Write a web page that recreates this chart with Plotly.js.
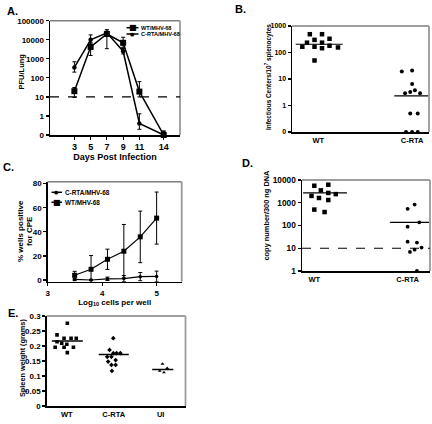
<!DOCTYPE html>
<html><head><meta charset="utf-8">
<script src="https://cdn.plot.ly/plotly-3.0.1.min.js"></script>
<style>html,body{margin:0;padding:0;background:#fff}#chart{width:432px;height:424px}</style>
</head><body><div id="chart"></div>
<script>
// ---------- DATA ----------
// Panel A: lung titers (PFU/Lung); 0 is drawn on the "0" tick below 1
const daysA = [3, 5, 7, 9, 11, 14];
const wtPfu = [20, 4200, 20000, 6900, 19, 0];
const wtPfuHigh = [31, 7000, 34000, 13500, 63, 0.16];
const wtPfuLow = [9.3, 1500, 3400, 4000, 10, 0];
const rtaPfu = [350, 10000, 23000, 2500, 0.4, 0];
const rtaPfuHigh = [700, 18000, 28000, 3500, 1.3, 0.16];
const rtaPfuLow = [200, 6000, 18000, 1800, 0.2, 0];
const limitA = 10;
const tickValsA = [0, 1, 10, 100, 1000, 10000, 100000];
const tickTextA = ['0', '1', '10', '100', '1000', '10000', '100000'];

// Panel B: infectious centers / 10^7 splenocytes
const groupsB = ['WT', 'C-RTA'];
const wtIC = [165, 235, 490, 300, 165, 490, 235, 145, 330, 180, 155, 50];
const wtICJitter = [-0.17, -0.12, -0.09, -0.04, -0.04, 0.04, 0.04, 0.04, 0.12, 0.12, 0.21, -0.04];
const rtaIC = [19, 21, 6.5, 3.8, 2.9, 3.2, 2.9, 0.5, 0.5, 0, 0, 0];
const rtaICJitter = [-0.11, 0, 0, 0.03, -0.075, -0.02, 0.085, -0.02, 0.06, -0.065, 0, 0.06];
const medianB = [205, 2.3];
const tickValsB = [0, 1, 10, 100, 1000];
const tickTextB = ['0', '1', '10', '100', '1000'];

// Panel C: % wells positive for CPE
const cellsC = [3125, 6250, 12500, 25000, 50000, 100000];
const rtaCPE = [0.5, 0, 1, 1.2, 2.8, 3];
const rtaCPEErr = [1, 0.5, 1.4, 2.5, 3.4, 4.4];
const wtCPE = [3.9, 8.9, 17.2, 23.9, 35.8, 51.4];
const wtCPEErr = [3.3, 11.4, 8.4, 22.2, 21.4, 21.6];

// Panel D: copy number / 300 ng DNA
const groupsD = ['WT', 'C-RTA'];
const wtCopy = [5600, 6200, 3500, 2000, 2700, 2400, 1620, 1320, 500, 390];
const wtCopyJitter = [0, 0.15, 0.07, -0.03, 0.15, 0.23, 0.05, 0.15, 0, 0.11];
const rtaCopy = [540, 830, 138, 89, 19.5, 17.8, 8.7, 6.9, 10.7, 1];
const rtaCopyJitter = [0, 0.075, 0.125, 0, 0, 0.10, 0.075, 0.025, 0.15, 0.10];
const medianD = [2700, 138];
const limitD = 10;

// Panel E: spleen weight (grams)
const groupsE = ['WT', 'C-RTA', 'UI'];
const wtSpleen = [0.276, 0.237, 0.214, 0.226, 0.226, 0.226, 0.209, 0.206, 0.196, 0.196, 0.196, 0.178];
const wtSpleenJitter = [0.01, -0.21, -0.21, -0.06, 0.09, 0.2, -0.11, 0, -0.25, -0.06, 0.14, 0.01];
const rtaSpleen = [0.226, 0.187, 0.176, 0.176, 0.176, 0.164, 0.164, 0.148, 0.153, 0.137, 0.137, 0.117];
const rtaSpleenJitter = [-0.01, -0.09, 0.06, 0.14, -0.01, -0.14, -0.05, -0.12, 0.04, -0.05, 0.04, -0.04];
const uiSpleen = [0.14, 0.117, 0.112, 0.126];
const uiSpleenJitter = [0.04, -0.02, 0.07, 0.14];
const medianE = [0.217, 0.172, 0.122];

// ---------- HELPERS ----------
const W = 432, H = 424;
const px = v => v / W;
const py = v => 1 - v / H;
const lg = v => (v <= 0 ? -1 : Math.log10(v));
const FONT = 'Liberation Sans, Arial, sans-serif';
const f = (s) => ({family: FONT, size: s, color: '#000', weight: 'bold'});
const blk = '#000';

const axBase = {
  showline: true, linecolor: blk, linewidth: 1.5, ticks: 'outside', ticklen: 3,
  tickwidth: 1.2, tickcolor: blk, showgrid: false, zeroline: false, fixedrange: true,
  automargin: false
};

// plot-area boxes in pixels [left, right, top, bottom]
const boxA = [50, 180, 20.7, 135];
const boxB = [292, 429, 26, 132];
const boxC = [47.7, 181.7, 181.7, 281.7];
const boxD = [302, 430, 180, 271];
const boxE = [46.7, 185.5, 316, 406];

const traces = [];
// Panel A
traces.push({
  x: daysA, y: wtPfu.map(lg), xaxis: 'x', yaxis: 'y', mode: 'lines+markers', name: 'WT/MHV-68',
  line: {color: blk, width: 1.5}, marker: {symbol: 'square', size: 6, color: blk},
  error_y: {type: 'data', symmetric: false,
    array: wtPfuHigh.map((h, i) => lg(h) - lg(wtPfu[i])),
    arrayminus: wtPfuLow.map((l, i) => lg(wtPfu[i]) - lg(l)),
    color: blk, thickness: 1, width: 2},
  cliponaxis: false, showlegend: false
});
traces.push({
  x: daysA, y: rtaPfu.map(lg), xaxis: 'x', yaxis: 'y', mode: 'lines+markers', name: 'C-RTA/MHV-68',
  line: {color: blk, width: 1.5}, marker: {symbol: 'circle', size: 4.5, color: blk},
  error_y: {type: 'data', symmetric: false,
    array: rtaPfuHigh.map((h, i) => lg(h) - lg(rtaPfu[i])),
    arrayminus: rtaPfuLow.map((l, i) => lg(rtaPfu[i]) - lg(l)),
    color: blk, thickness: 1, width: 2},
  cliponaxis: false, showlegend: false
});

// Panel B
traces.push({x: wtICJitter.map(j => 0 + j), y: wtIC.map(lg), xaxis: 'x2', yaxis: 'y2', mode: 'markers',
  marker: {symbol: 'square', size: 4.5, color: blk}, cliponaxis: false, showlegend: false, name: 'WT'});
traces.push({x: rtaICJitter.map(j => 1 + j), y: rtaIC.map(lg), xaxis: 'x2', yaxis: 'y2', mode: 'markers',
  marker: {symbol: 'circle', size: 4, color: blk}, cliponaxis: false, showlegend: false, name: 'C-RTA'});
traces.push({x: [-0.24, 0.26], y: [lg(medianB[0]), lg(medianB[0])], xaxis: 'x2', yaxis: 'y2', mode: 'lines',
  line: {color: blk, width: 1.2}, showlegend: false});
traces.push({x: [0.81, 1.18], y: [lg(medianB[1]), lg(medianB[1])], xaxis: 'x2', yaxis: 'y2', mode: 'lines',
  line: {color: blk, width: 1.2}, showlegend: false});

// Panel C
const logCells = cellsC.map(c => Math.log10(c));
traces.push({x: logCells, y: rtaCPE, xaxis: 'x3', yaxis: 'y3', mode: 'lines+markers', name: 'C-RTA/MHV-68',
  line: {color: blk, width: 1.2}, marker: {symbol: 'circle', size: 3.5, color: blk},
  error_y: {type: 'data', array: rtaCPEErr, color: blk, thickness: 1, width: 2},
  cliponaxis: false, showlegend: false});
traces.push({x: logCells, y: wtCPE, xaxis: 'x3', yaxis: 'y3', mode: 'lines+markers', name: 'WT/MHV-68',
  line: {color: blk, width: 1.2}, marker: {symbol: 'square', size: 5, color: blk},
  error_y: {type: 'data', array: wtCPEErr, color: blk, thickness: 1, width: 2},
  cliponaxis: false, showlegend: false});

// Panel D
traces.push({x: wtCopyJitter.map(j => 0 + j), y: wtCopy, xaxis: 'x4', yaxis: 'y4', mode: 'markers',
  marker: {symbol: 'square', size: 4.5, color: blk}, cliponaxis: false, showlegend: false, name: 'WT'});
traces.push({x: rtaCopyJitter.map(j => 1 + j), y: rtaCopy, xaxis: 'x4', yaxis: 'y4', mode: 'markers',
  marker: {symbol: 'circle', size: 3.8, color: blk}, cliponaxis: false, showlegend: false, name: 'C-RTA'});
traces.push({x: [-0.12, 0.35], y: [medianD[0], medianD[0]], xaxis: 'x4', yaxis: 'y4', mode: 'lines',
  line: {color: blk, width: 1.2}, showlegend: false});
traces.push({x: [0.81, 1.23], y: [medianD[1], medianD[1]], xaxis: 'x4', yaxis: 'y4', mode: 'lines',
  line: {color: blk, width: 1.2}, showlegend: false});

// Panel E
traces.push({x: wtSpleenJitter.map(j => 0 + j), y: wtSpleen, xaxis: 'x5', yaxis: 'y5', mode: 'markers',
  marker: {symbol: 'square', size: 3.6, color: blk}, showlegend: false, name: 'WT'});
traces.push({x: rtaSpleenJitter.map(j => 1 + j), y: rtaSpleen, xaxis: 'x5', yaxis: 'y5', mode: 'markers',
  marker: {symbol: 'diamond', size: 3.6, color: blk}, showlegend: false, name: 'C-RTA'});
traces.push({x: uiSpleenJitter.map(j => 2 + j), y: uiSpleen, xaxis: 'x5', yaxis: 'y5', mode: 'markers',
  marker: {symbol: 'triangle-up', size: 3.4, color: blk}, showlegend: false, name: 'UI'});
[[-0.32, 0.34], [-0.32, 0.32], [-0.18, 0.27]].forEach((s, i) => {
  traces.push({x: [i + s[0], i + s[1]], y: [medianE[i], medianE[i]], xaxis: 'x5', yaxis: 'y5', mode: 'lines',
    line: {color: blk, width: 1.5}, showlegend: false});
});

// ---------- LAYOUT ----------
const dx = b => [px(b[0]), px(b[1])];
const dy = b => [py(b[3]), py(b[2])];
const layout = {
  width: W, height: H, margin: {l: 0, r: 0, t: 0, b: 0},
  paper_bgcolor: '#fff', plot_bgcolor: 'rgba(0,0,0,0)', showlegend: false,
  font: f(8),
  xaxis: Object.assign({}, axBase, {domain: dx(boxA), range: [0, 16], tickvals: daysA,
    tickfont: f(9), anchor: 'y',
    title: {text: 'Days Post Infection', font: f(9), standoff: 2}}),
  yaxis: Object.assign({}, axBase, {domain: dy(boxA), range: [-1, 5],
    tickvals: tickValsA.map(lg), ticktext: tickTextA, tickfont: f(8), anchor: 'x'}),
  xaxis2: Object.assign({}, axBase, {domain: dx(boxB), range: [-0.28, 1.18], tickvals: [0, 1],
    ticktext: groupsB, tickfont: f(7.5), anchor: 'y2', ticks: ''}),
  yaxis2: Object.assign({}, axBase, {domain: dy(boxB), range: [-1, 3],
    tickvals: tickValsB.map(lg), ticktext: tickTextB, tickfont: f(7), anchor: 'x2'}),
  xaxis3: Object.assign({}, axBase, {domain: dx(boxC), range: [3, 5.46], tickvals: [3, 4, 5],
    ticktext: ['3', '4', '5'], tickfont: f(8), anchor: 'y3',
    title: {text: 'Log<sub>10</sub> cells per well', font: f(8), standoff: 2}}),
  yaxis3: Object.assign({}, axBase, {domain: dy(boxC), range: [-1.4, 81.6],
    tickvals: [0, 20, 40, 60, 80], tickfont: f(8), anchor: 'x3'}),
  xaxis4: Object.assign({}, axBase, {domain: dx(boxD), range: [-0.132, 1.24], tickvals: [0, 1],
    ticktext: groupsD, tickfont: f(7.5), anchor: 'y4', ticks: ''}),
  yaxis4: Object.assign({}, axBase, {domain: dy(boxD), type: 'log', range: [0, 4],
    tickvals: [1, 10, 100, 1000, 10000], ticktext: ['1', '10', '100', '1000', '10000'], tickfont: f(8.3), anchor: 'x4'}),
  xaxis5: Object.assign({}, axBase, {domain: dx(boxE), range: [-0.43, 2.53], tickvals: [0, 1, 2],
    ticktext: groupsE, tickfont: f(7.5), anchor: 'y5', ticks: ''}),
  yaxis5: Object.assign({}, axBase, {domain: dy(boxE), range: [0, 0.3],
    tickvals: [0, 0.05, 0.1, 0.15, 0.2, 0.25, 0.3], ticktext: ['0', '0.05', '0.1', '0.15', '0.2', '0.25', '0.3'],
    tickfont: f(8), anchor: 'x5'}),
  shapes: [],
  annotations: []
};

// gray top/right frame edges (paper coords)
[boxA, boxB, boxC, boxD, boxE].forEach(b => {
  layout.shapes.push({type: 'line', xref: 'paper', yref: 'paper', x0: px(b[0]), x1: px(b[1]), y0: py(b[2]), y1: py(b[2]),
    line: {color: '#7f7f7f', width: 1.6}});
  layout.shapes.push({type: 'line', xref: 'paper', yref: 'paper', x0: px(b[1]), x1: px(b[1]), y0: py(b[3]), y1: py(b[2]),
    line: {color: '#9a9a9a', width: 1.8}});
});
// detection limits
layout.shapes.push({type: 'line', xref: 'x domain', yref: 'y', x0: 0, x1: 1, y0: lg(limitA), y1: lg(limitA),
  line: {color: blk, width: 1.2, dash: 'dash'}});
layout.shapes.push({type: 'line', xref: 'x4 domain', yref: 'y4', x0: 0, x1: 1, y0: limitD, y1: limitD,
  line: {color: blk, width: 1.2, dash: 'dash'}});

// manual legends (A and C)
function legendItem(x0, x1, y, sym, symSize, label, fs) {
  layout.shapes.push({type: 'line', xref: 'paper', yref: 'paper', x0: px(x0), x1: px(x1), y0: py(y), y1: py(y),
    line: {color: blk, width: 1.5}});
  layout.annotations.push({xref: 'paper', yref: 'paper', x: px((x0 + x1) / 2), y: py(y), text: sym, showarrow: false,
    font: {family: 'DejaVu Sans', size: symSize, color: blk}, xanchor: 'center', yanchor: 'middle'});
  layout.annotations.push({xref: 'paper', yref: 'paper', x: px(x1 + 0.5), y: py(y), text: label, showarrow: false,
    font: f(fs), xanchor: 'left', yanchor: 'middle'});
}
legendItem(126.5, 138.5, 27.7, '■', 8, 'WT/MHV-68', 5.6);
legendItem(126.5, 138.5, 34, '●', 5, 'C-RTA/MHV-68', 5.6);
legendItem(51.5, 62, 192.3, '●', 5, 'C-RTA/MHV-68', 6.4);
legendItem(51.5, 62, 202.3, '■', 8, 'WT/MHV-68', 6.4);

// y titles and panel letters
function ann(x, y, text, size, angle) {
  layout.annotations.push({xref: 'paper', yref: 'paper', x: px(x), y: py(y), text: text, showarrow: false,
    font: f(size), textangle: angle || 0, xanchor: 'center', yanchor: 'middle'});
}
ann(21.5, 72, 'PFU/Lung', 7.5, -90);
ann(268, 77, 'Infectious Centers/10<sup>7</sup> splenocytes', 6.4, -90);
ann(21, 231, '% wells positive', 8, -90);
ann(30, 231, 'for CPE', 8, -90);
ann(265.5, 215, 'copy number/300 ng DNA', 7.4, -90);
ann(22, 358, 'Spleen weight (grams)', 7.3, -90);
ann(12, 10.5, 'A.', 11);
ann(240, 9, 'B.', 11);
ann(8, 167, 'C.', 11);
ann(247, 163, 'D.', 11);
ann(13, 313, 'E.', 11);

Plotly.newPlot('chart', traces, layout, {staticPlot: true, displayModeBar: false});
</script></body></html>
